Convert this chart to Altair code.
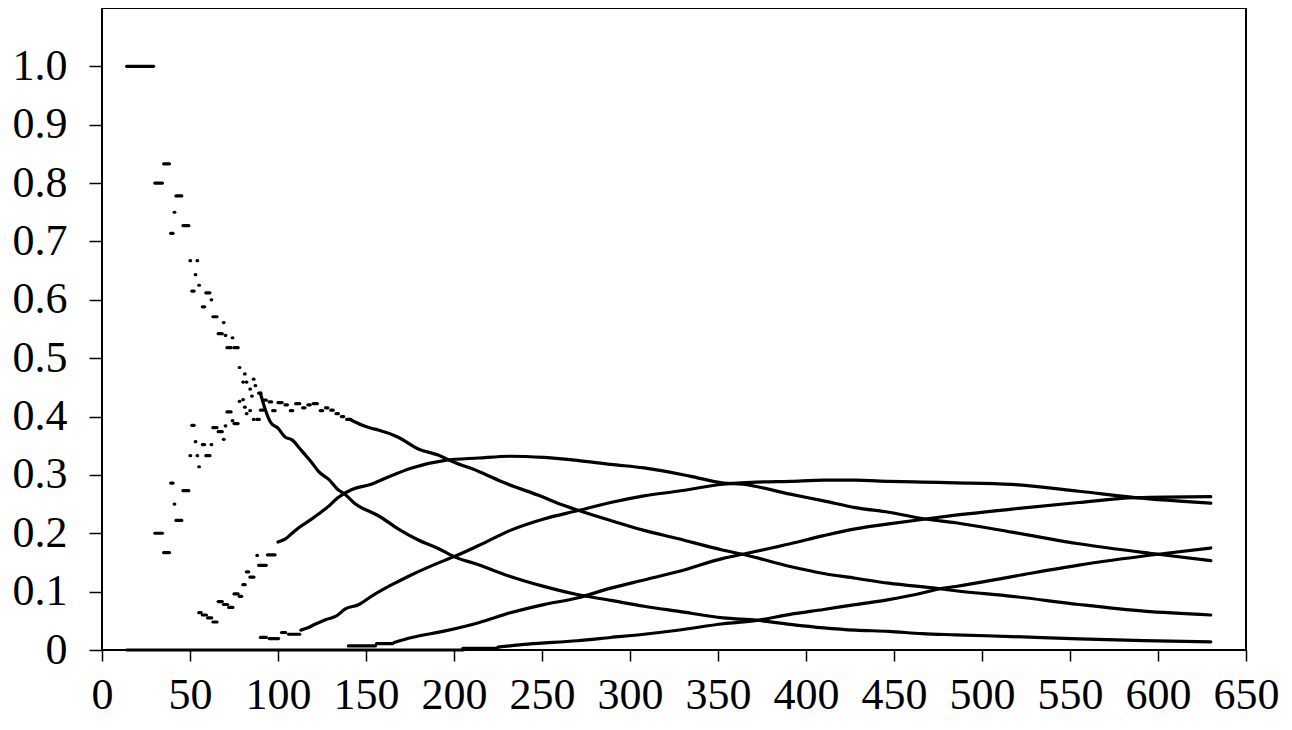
import altair as alt
import pandas as pd

# ---------- early, discrete readings: (n_start, n_end, value) ----------
c0_seg_n0 = [14, 30, 35, 39, 41, 42, 46, 50, 51, 53, 54, 55, 57, 59, 62, 63, 66, 69, 70, 71, 74, 75, 78, 80, 81, 82, 84, 85, 86, 87, 89]
c0_seg_n1 = [29, 34, 38, 40, 41, 45, 49, 50, 52, 53, 54, 55, 58, 61, 62, 65, 68, 69, 70, 73, 74, 77, 78, 80, 81, 82, 84, 85, 86, 87, 90]
c0_seg_v = [1.0, 0.8, 0.833, 0.714, 0.75, 0.778, 0.727, 0.667, 0.615, 0.643, 0.667, 0.625, 0.588, 0.612, 0.6, 0.571, 0.542, 0.561, 0.539, 0.518, 0.535, 0.518, 0.484, 0.459, 0.473, 0.459, 0.447, 0.435, 0.464, 0.453, 0.44]

c1_seg_n0 = [30, 35, 39, 41, 42, 46, 50, 51, 53, 54, 55, 57, 59, 62, 63, 66, 69, 70, 71, 74, 75, 78, 80, 81, 82, 84, 86, 88, 90, 92, 95, 97, 100, 104, 107, 110, 114, 117, 120, 124, 127, 130, 133, 136, 139]
c1_seg_n1 = [34, 38, 40, 41, 45, 49, 50, 52, 53, 54, 55, 58, 61, 62, 65, 68, 69, 70, 73, 74, 77, 78, 80, 81, 82, 84, 86, 89, 91, 93, 96, 98, 102, 105, 108, 112, 115, 118, 122, 125, 128, 131, 134, 137, 141]
c1_seg_v = [0.2, 0.167, 0.286, 0.25, 0.222, 0.273, 0.333, 0.385, 0.357, 0.333, 0.314, 0.352, 0.333, 0.352, 0.381, 0.374, 0.361, 0.384, 0.408, 0.393, 0.388, 0.426, 0.429, 0.416, 0.405, 0.41, 0.395, 0.395, 0.411, 0.428, 0.425, 0.41, 0.424, 0.42, 0.41, 0.422, 0.415, 0.42, 0.422, 0.41, 0.415, 0.411, 0.405, 0.4, 0.395]

c2_seg_n0 = [55, 57, 60, 63, 66, 69, 72, 75, 78, 80, 82, 84, 88, 89, 94]
c2_seg_n1 = [56, 59, 62, 65, 68, 71, 74, 77, 79, 81, 83, 86, 88, 93, 98]
c2_seg_v = [0.064, 0.06, 0.055, 0.048, 0.083, 0.078, 0.073, 0.096, 0.092, 0.112, 0.134, 0.125, 0.162, 0.145, 0.163]

c3_seg_n0 = [90, 95, 102, 106]
c3_seg_n1 = [93, 100, 104, 112]
c3_seg_v = [0.0215, 0.0195, 0.03, 0.027]

c4_seg_n0 = [140, 156]
c4_seg_n1 = [155, 165]
c4_seg_v = [0.007, 0.011]

c5_seg_n0 = [205]
c5_seg_n1 = [224]
c5_seg_v = [0.003]

zero_seg_n0 = [14]
zero_seg_n1 = [205]
zero_seg_v = [0.0]

# ---------- later, continuous readings ----------
c0_n = [90, 93, 96, 100, 104, 108, 113, 117, 120, 123, 129, 134, 138, 144, 153, 157, 168, 180, 191, 200, 214, 232, 251, 270, 289, 308, 327, 353, 372, 391, 410, 428, 447, 466, 485, 517, 555, 592, 630]
c0_v = [0.44, 0.41, 0.389, 0.38, 0.365, 0.36, 0.343, 0.329, 0.318, 0.306, 0.292, 0.275, 0.267, 0.25, 0.236, 0.23, 0.208, 0.188, 0.174, 0.16, 0.146, 0.126, 0.109, 0.095, 0.085, 0.075, 0.0665, 0.055, 0.051, 0.044, 0.038, 0.034, 0.032, 0.028, 0.026, 0.023, 0.019, 0.016, 0.014]

c1_n = [141, 148, 153, 157, 168, 180, 191, 199, 214, 229, 248, 263, 270, 289, 308, 327, 353, 364, 391, 410, 428, 447, 476, 485, 517, 555, 592, 630]
c1_v = [0.395, 0.385, 0.38, 0.377, 0.365, 0.344, 0.334, 0.323, 0.306, 0.286, 0.265, 0.247, 0.24, 0.222, 0.205, 0.191, 0.171, 0.164, 0.143, 0.131, 0.123, 0.1145, 0.105, 0.1015, 0.092, 0.078, 0.0665, 0.06]

c2_n = [100, 104, 108, 112, 118, 123, 129, 134, 142, 153, 163, 176, 195, 214, 232, 251, 270, 289, 308, 334, 353, 364, 391, 410, 428, 447, 468, 485, 517, 555, 600, 630]
c2_v = [0.185, 0.19, 0.2, 0.21, 0.222, 0.233, 0.247, 0.261, 0.275, 0.284, 0.297, 0.312, 0.325, 0.329, 0.332, 0.33, 0.325, 0.318, 0.312, 0.298, 0.286, 0.284, 0.267, 0.2555, 0.244, 0.236, 0.2245, 0.218, 0.202, 0.182, 0.164, 0.153]

c3_n = [113, 117, 121, 127, 133, 138, 146, 153, 161, 168, 176, 195, 200, 214, 232, 251, 270, 289, 308, 327, 353, 372, 391, 410, 428, 447, 466, 485, 517, 555, 587, 630]
c3_v = [0.034, 0.038, 0.044, 0.052, 0.058, 0.07, 0.078, 0.092, 0.106, 0.117, 0.129, 0.154, 0.16, 0.179, 0.205, 0.2245, 0.2386, 0.2527, 0.264, 0.272, 0.284, 0.2876, 0.289, 0.291, 0.291, 0.289, 0.2876, 0.2865, 0.2837, 0.272, 0.261, 0.2516]

c4_n = [166, 176, 195, 214, 232, 251, 270, 289, 308, 327, 353, 364, 391, 410, 428, 447, 468, 485, 517, 555, 587, 630]
c4_v = [0.013, 0.0214, 0.0327, 0.0468, 0.0637, 0.0778, 0.089, 0.106, 0.12, 0.134, 0.157, 0.164, 0.182, 0.196, 0.2076, 0.216, 0.2245, 0.231, 0.2414, 0.2527, 0.261, 0.2628]

c5_n = [225, 242, 270, 289, 308, 327, 353, 372, 391, 410, 428, 447, 466, 476, 485, 517, 555, 600, 630]
c5_v = [0.005, 0.01, 0.0158, 0.0214, 0.027, 0.0338, 0.045, 0.0508, 0.061, 0.0694, 0.0778, 0.0863, 0.0976, 0.105, 0.1088, 0.1257, 0.1455, 0.164, 0.1748]

x_ticks = [0, 50, 100, 150, 200, 250, 300, 350, 400, 450, 500, 550, 600, 650]
y_ticks = [0, 0.1, 0.2, 0.3, 0.4, 0.5, 0.6, 0.7, 0.8, 0.9, 1.0]

# ---------- tables ----------
seg_rows = []
for name, a0, a1, av in [
    ("c0", c0_seg_n0, c0_seg_n1, c0_seg_v),
    ("c1", c1_seg_n0, c1_seg_n1, c1_seg_v),
    ("c2", c2_seg_n0, c2_seg_n1, c2_seg_v),
    ("c3", c3_seg_n0, c3_seg_n1, c3_seg_v),
    ("c4", c4_seg_n0, c4_seg_n1, c4_seg_v),
    ("c5", c5_seg_n0, c5_seg_n1, c5_seg_v),
    ("zero", zero_seg_n0, zero_seg_n1, zero_seg_v),
]:
    for s, e, v in zip(a0, a1, av):
        seg_rows.append({"curve": name, "n0": s, "n1": e, "v": v})
seg_df = pd.DataFrame(seg_rows)

line_rows = []
for name, ns, vs in [("c0", c0_n, c0_v), ("c1", c1_n, c1_v), ("c2", c2_n, c2_v),
                     ("c3", c3_n, c3_v), ("c4", c4_n, c4_v), ("c5", c5_n, c5_v)]:
    for n, v in zip(ns, vs):
        line_rows.append({"curve": name, "n": n, "v": v})
line_df = pd.DataFrame(line_rows)

FONT = "Liberation Serif"
FS = 44

xscale = alt.Scale(domain=[0, 650], nice=False, zero=False)
yscale = alt.Scale(domain=[0, 1.1], nice=False)

xaxis = alt.Axis(values=x_ticks, title=None, grid=False, domain=False,
                 tickSize=11, tickWidth=1.5, tickColor="black",
                 labelFont=FONT, labelFontSize=FS, labelColor="black",
                 labelPadding=12, labelFlush=False, labelOverlap=False, labelBound=False)
yaxis = alt.Axis(values=y_ticks, title=None, grid=False, domain=False,
                 tickSize=13, tickWidth=1.5, tickColor="black",
                 labelFont=FONT, labelFontSize=FS, labelColor="black",
                 labelPadding=22, labelFlush=False, labelOverlap=False, labelBound=False,
                 labelExpr="datum.value == 0 ? '0' : format(datum.value, '.1f')")

segs = alt.Chart(seg_df).transform_calculate(
    n1e="datum.n1 + 0.35"
).mark_rule(color="black", strokeWidth=3.2, strokeCap="round").encode(
    x=alt.X("n0:Q", scale=xscale, axis=xaxis),
    x2="n1e:Q",
    y=alt.Y("v:Q", scale=yscale, axis=yaxis),
)

lines = alt.Chart(line_df).mark_line(color="black", strokeWidth=3.2, interpolate="monotone",
                                     strokeCap="round").encode(
    x=alt.X("n:Q", scale=xscale, axis=xaxis),
    y=alt.Y("v:Q", scale=yscale, axis=yaxis),
    detail="curve:N",
)

chart = alt.layer(segs, lines).properties(
    width=1144, height=642,
    autosize=alt.AutoSizeParams(type="none"),
    padding={"left": 94, "top": 0, "right": 34, "bottom": 68},
    background="white",
).configure_view(stroke="black", strokeWidth=2)

chart.save("out.html", embed_options={"renderer": "svg", "actions": False})
